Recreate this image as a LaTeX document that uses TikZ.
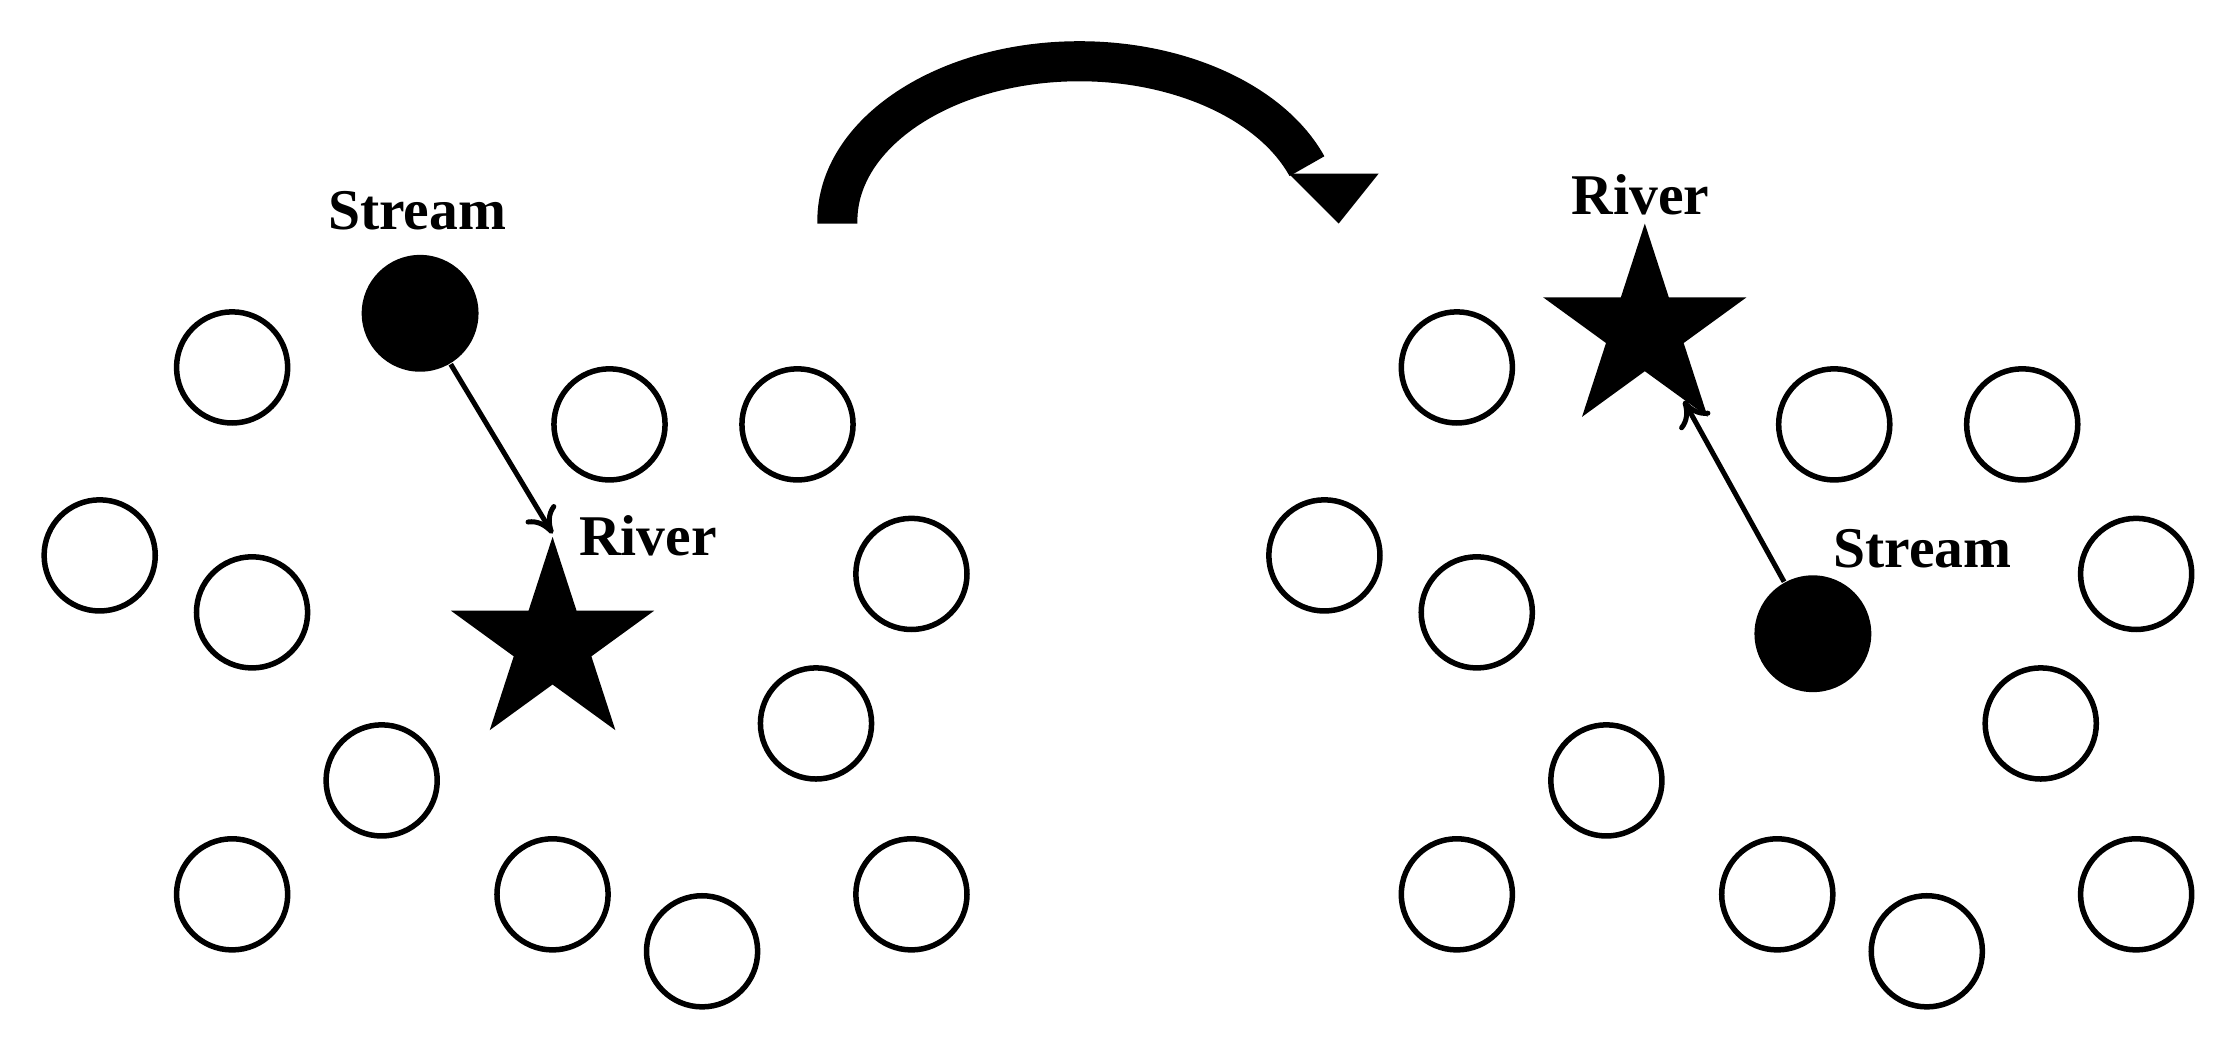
\documentclass[tikz,border=0pt]{standalone}
\usepackage{fontspec}
\setmainfont{Liberation Serif}
\usetikzlibrary{shapes.geometric,arrows.meta}
\begin{document}
\begin{tikzpicture}[x=0.01cm,y=-0.01cm,
  c/.style={circle,draw,line width=1.1pt,minimum size=0.78cm,inner sep=0pt},
  f/.style={circle,fill,minimum size=0.82cm,inner sep=0pt},
  st/.style={star,star points=5,star point ratio=2.618,fill,minimum size=1.5cm,inner sep=0pt},
  lab/.style={font=\bfseries\fontsize{11.5}{12}\selectfont,inner sep=0pt},
  ar/.style={line width=1pt,-{To[length=5pt,width=7pt,line width=1pt]}}]
\useasboundingbox (0,0) rectangle (1568,730);
\foreach \x/\y [count=\i] in {163/258,428/298,560/298,70/390,177/430,640/403,573/508,268/548,163/628,388/628,640/628,493/668}{
  \node[c] (a\i) at (\x,\y) {};
  \node[c] (b\i) at (\x+860,\y) {};
}
\node[f] (s1) at (295,220) {};
\node[st] (r1) at (388,452) {};
\node[lab] (ls1) at (293,148) {Stream};
\node[lab] (lr1) at (455,376) {River};
\draw[ar] (s1) -- (r1.outer point 1);
\node[f] (s2) at (1273,445) {};
\node[st] (r2) at (1155,232) {};
\node[lab] (lr2) at (1152,137) {River};
\node[lab] (ls2) at (1350,385) {Stream};
\draw[ar] (s2) -- (r2);
\coordinate (p0) at (588,157);
\coordinate (tip) at (940,157);
\draw[line width=8pt] (p0) -- ++(0,-2) arc[start angle=180,end angle=340,x radius=170,y radius=112];
\fill (905,122) -- (968,122) -- (tip) -- cycle;
\end{tikzpicture}
\end{document}
